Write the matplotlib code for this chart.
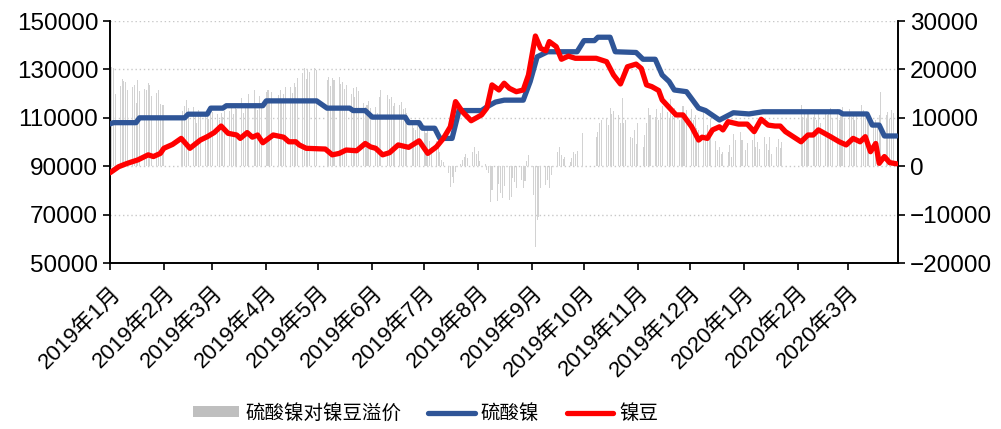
import numpy as np
import pandas as pd
import matplotlib
matplotlib.use('Agg')
import matplotlib.pyplot as plt
from matplotlib.patches import Patch
from matplotlib.lines import Line2D

plt.rcParams['font.family'] = ['Liberation Sans', 'Noto Sans CJK SC']
plt.rcParams['axes.unicode_minus'] = True

nan = np.nan

# 镍豆 price (left axis)
bean_dates = ['2019-01-01', '2019-01-06', '2019-01-11', '2019-01-17', '2019-01-23', '2019-01-26',
              '2019-01-30', '2019-02-01', '2019-02-06', '2019-02-11', '2019-02-16', '2019-02-22',
              '2019-02-26', '2019-03-02', '2019-03-06', '2019-03-10', '2019-03-15', '2019-03-17',
              '2019-03-21', '2019-03-24', '2019-03-27', '2019-03-30', '2019-04-05', '2019-04-11',
              '2019-04-14', '2019-04-18', '2019-04-20', '2019-04-24', '2019-05-05', '2019-05-09',
              '2019-05-13', '2019-05-17', '2019-05-23', '2019-05-28', '2019-05-31', '2019-06-03',
              '2019-06-07', '2019-06-11', '2019-06-16', '2019-06-22', '2019-06-28', '2019-07-03',
              '2019-07-08', '2019-07-12', '2019-07-16', '2019-07-19', '2019-07-23', '2019-07-28',
              '2019-08-03', '2019-08-06', '2019-08-09', '2019-08-13', '2019-08-16', '2019-08-19',
              '2019-08-23', '2019-08-27', '2019-08-30', '2019-09-03', '2019-09-06', '2019-09-09',
              '2019-09-11', '2019-09-15', '2019-09-18', '2019-09-22', '2019-09-26', '2019-10-08',
              '2019-10-14', '2019-10-18', '2019-10-22', '2019-10-26', '2019-10-31', '2019-11-03',
              '2019-11-06', '2019-11-09', '2019-11-13', '2019-11-15', '2019-11-19', '2019-11-23',
              '2019-11-27', '2019-12-02', '2019-12-06', '2019-12-08', '2019-12-11', '2019-12-14',
              '2019-12-18', '2019-12-20', '2019-12-23', '2019-12-29', '2020-01-03', '2020-01-07',
              '2020-01-11', '2020-01-15', '2020-01-19', '2020-01-22', '2020-01-25', '2020-02-03',
              '2020-02-07', '2020-02-10', '2020-02-13', '2020-02-20', '2020-02-25', '2020-02-29',
              '2020-03-04', '2020-03-08', '2020-03-11', '2020-03-14', '2020-03-17', '2020-03-19',
              '2020-03-22', '2020-03-25', '2020-03-29']
bean_price = [87300, 89800, 91200, 92600, 94700, 94000,
              95300, 97400, 99000, 101500, 97400, 100800,
              102200, 103900, 106600, 103600, 102900, 101500,
              103900, 102000, 102900, 99700, 102900, 102000,
              100100, 100100, 98800, 97400, 97100, 94700,
              95300, 96700, 96400, 99400, 98000, 97400,
              94700, 95600, 98800, 97800, 100500, 95300,
              98000, 101500, 106300, 116700, 112500, 108800,
              111200, 114000, 123600, 121500, 124300, 122200,
              120800, 121500, 127700, 143800, 138700, 137700,
              141500, 139400, 134200, 135500, 134600, 134600,
              133200, 127700, 124000, 131100, 132200, 130400,
              123600, 122900, 121300, 117400, 114300, 111200,
              111200, 106300, 100800, 102000, 101500, 105000,
              106300, 105000, 108400, 107400, 107400, 104300,
              109400, 107000, 106600, 106600, 104300, 100100,
              102900, 102900, 105000, 102200, 100100, 98800,
              101500, 100100, 102200, 96000, 99400, 91200,
              94000, 91500, 91000]

# 硫酸镍 price (left axis)
sulfate_dates = ['2019-01-01', '2019-01-03', '2019-01-16', '2019-01-18', '2019-02-13', '2019-02-15',
                 '2019-02-26', '2019-02-28', '2019-03-07', '2019-03-09', '2019-03-30', '2019-04-01',
                 '2019-04-30', '2019-05-06', '2019-05-19', '2019-05-21', '2019-05-28', '2019-06-01',
                 '2019-06-20', '2019-06-22', '2019-06-28', '2019-06-30', '2019-07-07', '2019-07-10',
                 '2019-07-17', '2019-07-21', '2019-08-03', '2019-08-06', '2019-08-11', '2019-08-16',
                 '2019-08-27', '2019-08-31', '2019-09-04', '2019-09-10', '2019-09-27', '2019-10-01',
                 '2019-10-07', '2019-10-09', '2019-10-16', '2019-10-19', '2019-10-31', '2019-11-04',
                 '2019-11-11', '2019-11-15', '2019-11-19', '2019-11-22', '2019-11-29', '2019-12-06',
                 '2019-12-10', '2019-12-18', '2019-12-26', '2020-01-04', '2020-01-12', '2020-02-25',
                 '2020-02-27', '2020-03-12', '2020-03-15', '2020-03-19', '2020-03-22', '2020-03-29']
sulfate_price = [107500, 108000, 108000, 110000, 110000, 111500,
                 111500, 114000, 114000, 115000, 115000, 117000,
                 117000, 114000, 114000, 113000, 113000, 110300,
                 110300, 108000, 108000, 105700, 105700, 101500,
                 101500, 113000, 113000, 114500, 116500, 117300,
                 117300, 125000, 135200, 137300, 137300, 141900,
                 141900, 143300, 143300, 137300, 137000, 134200,
                 134200, 127700, 125000, 121500, 120800, 114000,
                 113000, 109100, 112100, 111600, 112500, 112500,
                 111600, 111600, 107000, 107000, 102500, 102500]

# 硫酸镍对镍豆溢价 (right axis), one row per week Mon-Fri, nan = no quote
premium_start = '2018-12-31'
premium = [
    [nan, nan, 20500, 20200, 15000],
    [16500, 18000, 17600, 17400, 15800],
    [16400, 16700, 13000, 17900, 15500],
    [16000, 15700, 17100, 16700, 14500],
    [15100, 15800, 12900, 12600, 12600],
    [nan, nan, nan, nan, nan],
    [9500, 11500, 12500, 13600, 12000],
    [12200, 11000, 9000, 11600, 10800],
    [10500, 11000, 9800, 10700, 11200],
    [10700, 9500, 11000, 10200, 11400],
    [11400, 12000, 10800, 12500, 11800],
    [14000, 11000, 13000, 12000, 15000],
    [15700, 13000, 11600, 14500, 12800],
    [15300, 15700, 14000, 15400, nan],
    [14700, 15700, 13500, 15000, 16300],
    [16400, 15100, 17100, 16300, 18200],
    [19200, 20200, 18000, 20000, 19500],
    [20200, 19800, nan, nan, nan],
    [17800, 18400, 16500, 18200, 17900],
    [18400, 17000, 17400, 16000, 16700],
    [15000, 16100, 14200, 16400, 15600],
    [13000, 12200, 12700, 13500, 12000],
    [12300, 11000, 14300, 15700, nan],
    [14700, 13800, 14300, 12500, 13000],
    [12600, 13200, 11900, 12000, 11000],
    [9500, 8000, 7400, 8600, 9200],
    [8500, 6800, 7400, 5200, 3900],
    [5200, 3800, 3000, 1300, 800],
    [-1500, -4300, -2200, -3500, -1200],
    [500, 1300, 2000, 2600, 1800],
    [3000, 4000, 2600, 3200, 1000],
    [500, -800, -1500, -7400, -5000],
    [-7200, -3600, -5600, -6500, -4000],
    [-7000, -6300, -2500, -3200, -4600],
    [-2800, -4600, -3000, 1000, 2300],
    [-6000, -16700, -11200, -10500, -4400],
    [-3900, -2800, -4500, -1800, nan],
    [3000, 4000, 2300, 1500, 2000],
    [800, 1600, 3000, 2600, 3200],
    [6800, nan, nan, nan, nan],
    [nan, 6000, 7100, 8900, 9600],
    [9900, 8500, 12000, 10700, 11500],
    [10500, 9000, 14000, 8900, 9500],
    [6100, 5800, 7500, 4500, 9000],
    [4000, 6500, 8900, 12000, 10500],
    [10200, 11800, 9500, 11000, 12400],
    [11300, 10000, 13800, 10300, 12000],
    [9500, 11000, 12400, 10500, 11600],
    [11900, 9500, 10600, 8000, 7400],
    [11600, 6600, 8500, 7400, 9800],
    [5200, 3300, 4000, 2600, 3000],
    [3000, 4300, 2000, 6600, 5500],
    [7100, 5400, nan, 3300, 4800],
    [5400, 6600, 4000, 5000, 3500],
    [6000, 4500, 3300, 6000, 2600],
    [4000, 5700, 3800, 5000, nan],
    [nan, nan, nan, nan, nan],
    [12600, 10200, 11600, 9800, 11000],
    [10200, 11300, 9500, 10800, 9000],
    [11600, 10600, 11000, 12000, 10000],
    [11900, 9500, 11300, 12200, 10000],
    [11900, 10200, 11000, 9500, 10500],
    [12600, 11600, 10200, 11000, 9600],
    [8200, 9500, 8800, 10500, 15400],
    [10600, 11300, 9800, 11600, 11000],
]

month_ticks = pd.date_range('2019-01-01', '2020-03-01', freq='MS')
month_labels = [f'{d.year}年{d.month}月' for d in month_ticks]

# flatten the weekly premium table into daily bars
bar_x, bar_y = [], []
for monday, week in zip(pd.date_range(premium_start, periods=len(premium), freq='7D'), premium):
    for i, v in enumerate(week):
        if not np.isnan(v):
            bar_x.append(monday + pd.Timedelta(days=i))
            bar_y.append(v)

fig = plt.figure(figsize=(10.01, 4.29), dpi=100)
ax = fig.add_axes([0.1099, 0.3869, 0.7872, 0.5641])
ax2 = ax.twinx()

# bars on the right axis, lines on top from the left axis
ax2.bar(bar_x, bar_y, width=0.6, color='#d2d2d2', linewidth=0, zorder=2)
ax2.set_ylim(-20000, 30000)
ax2.set_yticks(range(-20000, 30001, 10000))
ax2.yaxis.grid(True, linestyle=(0, (1, 2)), color='#c8c8c8', linewidth=1.0, zorder=0)
ax2.set_axisbelow(True)

ax.set_zorder(ax2.get_zorder() + 1)
ax.patch.set_visible(False)
ax.plot(pd.to_datetime(sulfate_dates), sulfate_price, color='#2f5597', lw=3.8,
        solid_joinstyle='round', solid_capstyle='round', zorder=3)
ax.plot(pd.to_datetime(bean_dates), bean_price, color='#ff0000', lw=3.8,
        solid_joinstyle='round', solid_capstyle='round', zorder=4)
ax.set_ylim(50000, 150000)
ax.set_yticks(range(50000, 150001, 20000))
ax.set_xlim(pd.Timestamp('2019-01-01'), pd.Timestamp('2020-03-29 20:00'))
ax.set_xticks(month_ticks)
ax.set_xticklabels(month_labels, rotation=45, ha='right', rotation_mode='anchor')

for a in (ax, ax2):
    a.spines['top'].set_visible(False)
    for s in ('left', 'right', 'bottom'):
        a.spines[s].set_linewidth(1.2)
    a.tick_params(axis='both', direction='out', length=5, width=1.2, labelsize=17.5)
ax.tick_params(axis='x', labelsize=16, pad=9)

handles = [Patch(facecolor='#bfbfbf', edgecolor='none'),
           Line2D([], [], color='#2f5597', lw=3.8, solid_capstyle='round'),
           Line2D([], [], color='#ff0000', lw=3.8, solid_capstyle='round')]
fig.legend(handles, ['硫酸镍对镍豆溢价', '硫酸镍', '镍豆'], loc='center',
           bbox_to_anchor=(0.425, 0.037), ncol=3, frameon=False, fontsize=14,
           handlelength=2.4, handleheight=0.45, handletextpad=0.3, columnspacing=1.4)

fig.savefig('out.png', dpi=100)
